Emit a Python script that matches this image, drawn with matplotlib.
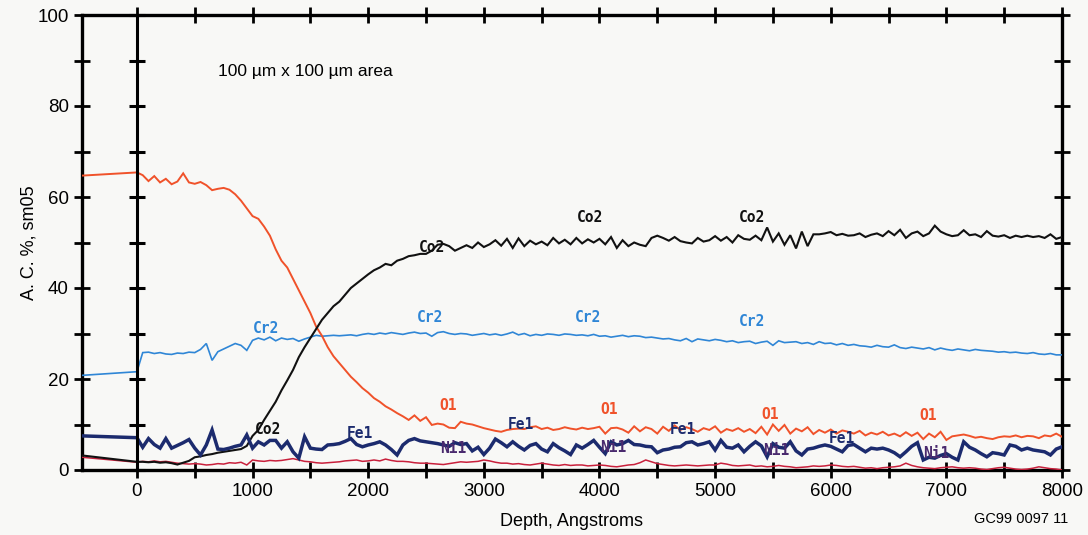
import numpy as np
import matplotlib
matplotlib.use("Agg")
import matplotlib.pyplot as plt

# ---------------- data ----------------
x_left = -475          # depth at left edge (pre-sputter reference values)
depth_step = 50
depth = np.arange(0, 8001, depth_step)

left_O1, left_Cr2, left_Fe1, left_Co2, left_Ni1 = 64.7, 20.8, 7.5, 3.2, 2.8

O1 = [
    65.4, 64.8, 63.5, 64.6, 63.2, 64.0, 62.8, 63.4, 65.2, 63.2,
    62.9, 63.3, 62.6, 61.5, 61.8, 62.0, 61.6, 60.6, 59.2, 57.5,
    55.8, 55.2, 53.5, 51.5, 48.5, 46.0, 44.5, 42.0, 39.5, 37.0,
    34.5, 31.5, 29.5, 27.0, 25.0, 23.5, 22.0, 20.5, 19.3, 18.0,
    17.0, 15.8, 15.0, 14.0, 13.3, 12.5, 11.8, 11.0, 12.0, 10.8,
    11.6, 9.9, 10.2, 10.0, 9.3, 9.2, 10.6, 10.2, 10.0, 9.6,
    9.2, 8.9, 8.6, 8.4, 8.8, 9.0, 9.1, 9.0, 9.4, 9.6,
    9.0, 9.3, 8.8, 9.0, 9.4, 9.1, 8.9, 9.3, 9.0, 9.2,
    9.5, 8.0, 9.2, 9.3, 8.9, 8.2, 9.6, 8.5, 9.4, 9.0,
    8.0, 9.5, 8.6, 9.8, 8.8, 9.4, 9.0, 8.4, 9.2, 8.8,
    9.6, 8.2, 9.0, 8.6, 9.2, 8.4, 9.0, 8.1, 9.5, 7.8,
    10.0, 8.6, 9.9, 8.0, 9.1, 8.5, 9.4, 7.9, 8.8, 8.2,
    8.9, 8.0, 8.7, 8.4, 8.0, 8.6, 7.6, 8.2, 7.8, 8.4,
    7.6, 8.0, 7.4, 8.3, 7.5, 8.2, 6.8, 8.0, 7.2, 8.4,
    6.6, 7.4, 7.6, 7.8, 7.5, 7.1, 7.3, 7.0, 6.8, 7.2,
    7.4, 7.3, 7.6, 7.2, 7.5, 7.4, 7.0, 7.6, 7.4, 8.0,
    7.3,
]

Co2 = [
    1.8, 1.8, 1.7, 1.8, 1.6, 1.7, 1.5, 1.2, 1.6, 2.0,
    2.8, 3.0, 3.3, 3.5, 3.8, 4.0, 4.2, 4.4, 4.6, 5.3,
    7.5, 8.8, 11.0, 13.0, 15.0, 17.5, 19.7, 22.0, 24.8, 27.0,
    29.0, 31.0, 33.0, 34.5, 36.0, 37.0, 38.5, 40.0, 41.0, 42.0,
    43.0, 43.9, 44.5, 45.3, 45.0, 46.0, 46.4, 47.0, 47.2, 47.5,
    47.5, 48.2, 49.5, 49.7, 49.2, 48.2, 48.8, 49.4, 48.8, 50.0,
    49.0, 49.6, 50.5, 49.3, 50.8, 48.8, 50.9, 49.2, 50.4, 49.6,
    50.2, 49.4, 51.0, 49.8, 50.6, 49.6, 51.0, 49.8, 50.7, 50.0,
    50.8, 49.6, 51.2, 48.8, 50.5, 49.2, 50.0, 49.5, 49.2, 51.0,
    51.5, 51.0, 50.4, 51.2, 50.3, 50.0, 49.8, 51.0, 50.2, 50.5,
    51.4, 50.4, 51.2, 50.0, 51.6, 50.8, 50.6, 51.5, 50.5, 53.3,
    50.2, 52.0, 49.5, 51.6, 48.7, 52.4, 49.2, 51.8, 51.8, 52.0,
    52.3, 51.6, 51.9, 51.5, 51.6, 52.0, 51.2, 51.7, 52.0, 51.4,
    52.5, 51.6, 52.8, 51.0, 52.0, 52.4, 51.4, 52.0, 53.7, 52.4,
    51.8, 51.4, 51.6, 52.7, 51.6, 51.8, 51.2, 52.5, 51.5, 51.3,
    51.6, 51.0, 51.5, 51.2, 51.5, 51.2, 51.4, 51.0, 51.8, 50.8,
    51.2,
]

Cr2 = [
    21.6, 25.8, 25.9, 25.6, 25.8, 25.5, 25.4, 25.7, 25.6, 25.9,
    25.8, 26.5, 27.8, 24.1, 26.0, 26.6, 27.2, 27.8, 27.4, 26.3,
    28.5, 29.0, 28.6, 29.2, 28.4, 29.0, 28.7, 28.9, 28.3, 28.8,
    29.2, 29.6, 29.4, 29.5, 29.6, 29.5, 29.6, 29.7, 29.5, 29.8,
    30.0, 29.8, 30.1, 29.9, 30.2, 30.0, 29.8, 30.1, 30.3, 30.0,
    30.1, 29.4, 30.2, 30.4, 30.0, 29.8, 30.0, 29.9, 29.6, 29.8,
    30.0, 29.7, 29.9, 29.6, 29.9, 30.3, 29.7, 30.0, 29.5, 29.8,
    29.6, 29.9, 29.8, 29.6, 29.9, 29.8, 29.6, 29.7, 29.5, 29.8,
    29.4, 29.5, 29.2, 29.4, 29.6, 29.3, 29.5, 29.4, 29.1, 29.2,
    29.0, 28.8, 28.9, 28.6, 28.4, 28.9, 28.2, 28.8, 28.6, 28.4,
    28.7, 28.5, 28.2, 28.4, 28.0, 28.2, 28.3, 27.8, 28.1, 28.3,
    27.4, 28.4, 28.0, 28.1, 28.2, 27.8, 28.0, 27.6, 28.2, 27.8,
    27.9, 27.5, 27.8, 27.4, 27.6, 27.3, 27.2, 27.0, 27.4, 27.1,
    27.0, 27.5, 26.9, 26.7, 27.0, 26.8, 26.6, 26.9, 26.4, 26.8,
    26.5, 26.3, 26.6, 26.4, 26.2, 26.5, 26.3, 26.2, 26.1, 25.9,
    26.0, 25.8, 25.9, 25.7, 25.6, 25.8, 25.5, 25.4, 25.6, 25.3,
    25.3,
]

Fe1 = [
    7.1, 5.0, 6.9, 5.6, 4.8, 6.9, 4.8, 5.4, 6.0, 6.7,
    4.8, 3.3, 5.5, 8.8, 4.6, 4.5, 4.8, 5.2, 5.5, 7.7,
    4.8, 6.2, 5.5, 6.5, 6.5, 4.8, 6.2, 4.0, 2.6, 7.3,
    4.8, 4.6, 4.5, 5.5, 5.6, 5.8, 6.3, 6.9, 5.6, 5.1,
    5.5, 5.8, 6.2, 5.5, 4.5, 3.3, 5.5, 6.5, 6.9, 6.4,
    6.2, 6.0, 5.8, 5.5, 5.2, 6.0, 5.6, 5.8, 4.2, 5.0,
    3.4, 4.8, 6.8, 6.0, 5.1, 6.2, 5.2, 4.4, 5.4, 5.8,
    4.6, 4.0, 5.8, 4.9, 4.2, 3.4, 5.5, 4.8, 5.6, 6.5,
    5.0, 3.6, 6.2, 5.5, 5.8, 6.5, 5.6, 5.5, 5.2, 5.1,
    3.8, 4.4, 4.6, 5.0, 5.1, 6.0, 6.2, 5.5, 5.8, 6.2,
    4.4, 6.5, 5.0, 4.8, 5.5, 4.0, 5.2, 6.2, 5.3, 2.9,
    5.8, 5.0, 4.8, 6.2, 4.2, 3.3, 4.6, 4.8, 5.2, 5.5,
    5.2, 4.6, 4.0, 5.4, 5.6, 4.8, 4.0, 4.8, 4.6, 4.8,
    4.4, 3.8, 2.9, 4.0, 5.2, 6.0, 2.2, 2.8, 2.6, 3.2,
    3.6, 2.8, 2.2, 6.2, 5.0, 4.4, 3.6, 2.9, 3.8, 3.6,
    3.3, 5.5, 5.2, 4.4, 4.8, 4.4, 4.2, 4.0, 3.3, 4.6,
    5.1,
]

Ni1 = [
    1.7, 1.9, 1.8, 2.0, 1.8, 1.9, 1.7, 1.5, 1.4, 1.3,
    1.4, 1.3, 1.1, 1.2, 1.4, 1.3, 1.6, 1.5, 1.7, 1.1,
    2.2, 2.0, 1.9, 2.1, 2.0, 2.1, 2.3, 2.5, 2.2, 1.9,
    1.8, 1.6, 1.5, 1.6, 1.7, 1.8, 2.0, 2.1, 2.2, 1.9,
    2.0, 2.2, 2.0, 2.4, 2.1, 1.9, 1.9, 1.8, 1.6, 1.5,
    1.5, 1.4, 1.3, 1.2, 1.4, 1.6, 1.8, 1.7, 1.8, 1.9,
    2.2, 2.0, 1.7, 1.5, 1.5, 1.3, 1.4, 1.2, 1.1, 1.3,
    1.5, 1.3, 1.1, 1.0, 1.2, 1.0, 1.1, 1.1, 0.9, 1.0,
    1.1, 1.0, 0.8, 0.7, 0.9, 1.1, 1.2, 1.6, 2.2, 1.8,
    1.4, 1.2, 1.0, 0.9, 1.0, 1.1, 1.0, 0.9, 1.0, 1.1,
    1.1, 1.5, 1.3, 1.0, 0.9, 1.0, 1.1, 0.8, 0.9, 0.7,
    0.8, 1.0, 0.8, 0.7, 0.5, 0.6, 0.7, 0.9, 0.8, 0.9,
    1.1, 1.0, 0.8, 0.7, 0.8, 0.6, 0.4, 0.5, 0.3, 0.5,
    0.6, 0.7, 0.9, 1.5, 1.0, 0.7, 0.5, 0.4, 0.3, 0.5,
    0.6, 0.7, 0.5, 0.4, 0.5, 0.4, 0.2, 0.1, 0.3, 0.5,
    0.6, 0.4, 0.2, 0.1, 0.2, 0.4, 0.7, 0.5, 0.3, 0.2,
    0.0,
]

# in-plot series labels (depth, value)
labels_Co2 = [(1133, 8.8), (2550, 48.8), (3920, 55.4), (5320, 55.4)]
labels_Cr2 = [(1116, 31.2), (2535, 33.6), (3900, 33.6), (5320, 32.7)]
labels_O1 = [(2690, 14.1), (4083, 13.2), (5476, 12.3), (6843, 11.9)]
labels_Fe1 = [(1929, 8.1), (3322, 10.1), (4723, 8.8), (6100, 7.0)]
labels_Ni1 = [(2733, 4.8), (4118, 5.0), (5528, 4.2), (6912, 3.7)]

x_ticks = [0, 1000, 2000, 3000, 4000, 5000, 6000, 7000, 8000]
y_ticks = [0, 20, 40, 60, 80, 100]

# ---------------- plot ----------------
plt.rcParams['font.family'] = ['Liberation Sans', 'DejaVu Sans']
bg = '#f8f8f6'
fig = plt.figure(figsize=(10.88, 5.35), dpi=100, facecolor=bg)
ax = fig.add_axes([82 / 1088, 65 / 535, (1062 - 82) / 1088, (470 - 15) / 535])
ax.set_facecolor(bg)

series = [
    (Ni1, left_Ni1, '#c8203c', 1.1),
    (Cr2, left_Cr2, '#2f86d6', 1.2),
    (O1, left_O1, '#f0522a', 1.4),
    (Co2, left_Co2, '#111111', 1.5),
    (Fe1, left_Fe1, '#1c2b6e', 2.5),
]
for vals, lv, col, lw in series:
    xs = np.concatenate([[x_left], depth])
    ys = np.concatenate([[lv], np.asarray(vals, dtype=float)])
    ax.plot(xs, ys, color=col, lw=lw, solid_joinstyle='miter', zorder=3)

lab_font = dict(family='DejaVu Sans Mono', fontsize=10.5, fontweight='bold',
                ha='center', va='center', zorder=5)
for (xx, yy) in labels_Co2:
    ax.text(xx, yy, 'Co2', color='#111111', **lab_font)
for (xx, yy) in labels_Cr2:
    ax.text(xx, yy, 'Cr2', color='#2f86d6', **lab_font)
for (xx, yy) in labels_O1:
    ax.text(xx, yy, 'O1', color='#f0522a', **lab_font)
for (xx, yy) in labels_Fe1:
    ax.text(xx, yy, 'Fe1', color='#1c2b6e', **lab_font)
for (xx, yy) in labels_Ni1:
    ax.text(xx, yy, 'Ni1', color='#4a2a6e', **lab_font)

# zero-depth vertical axis with its own ticks
ax.axvline(0, color='black', lw=2.2, zorder=4)
minor_y = np.arange(0, 101, 10)
ax.plot(np.zeros(len(minor_y)), minor_y, ls='none', marker='_', ms=11,
        mew=2.2, color='black', zorder=4, clip_on=False)

ax.set_xlim(x_left, 8000)
ax.set_ylim(0, 100)
ax.set_xticks(x_ticks)
ax.set_xticks(np.arange(500, 8000, 1000), minor=True)
ax.set_yticks(y_ticks)
ax.set_yticks(np.arange(10, 100, 20), minor=True)
ax.tick_params(axis='both', which='both', direction='inout', top=True,
               right=True, width=2, labelsize=13.5, pad=4)
ax.tick_params(which='major', length=11)
ax.tick_params(which='minor', length=11)
for sp in ax.spines.values():
    sp.set_linewidth(2.4)

ax.set_xlabel('Depth, Angstroms', fontsize=13, labelpad=9)
ax.set_ylabel('A. C. %, sm05', fontsize=13, labelpad=0)

ax.text(700, 87.5, '100 \u00b5m x 100 \u00b5m area', fontsize=12.5,
        ha='left', va='center')
fig.text(1021 / 1088, 1 - 519 / 535, 'GC99 0097 11', fontsize=10.5,
         ha='center', va='center')

fig.savefig('out.png', dpi=100, facecolor=bg)
